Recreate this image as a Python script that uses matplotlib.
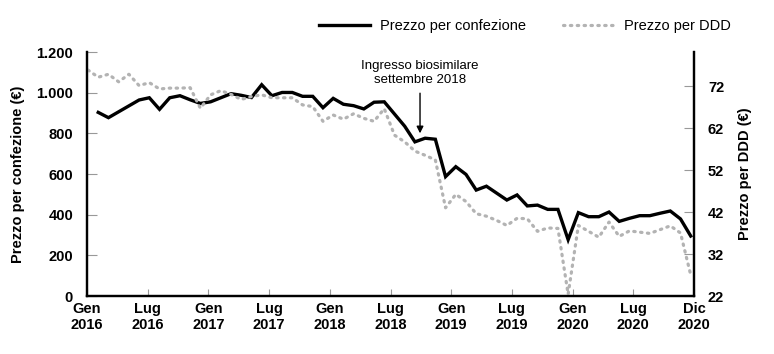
import numpy as np
import matplotlib
matplotlib.use("Agg")
import matplotlib.pyplot as plt

plt.rcParams['font.family'] = ['Liberation Sans', 'DejaVu Sans']

# Prezzo per confezione (EUR), Feb 2016 - Dic 2020
prezzo_confezione = [903, 877, 906, 935, 964, 975, 918, 975, 985, 965,
                     947, 955, 975, 995, 987, 976, 1039, 985, 1001, 1001,
                     982, 982, 926, 972, 943, 936, 920, 953, 955, 895,
                     835, 758, 776, 771, 587, 636, 598, 521, 540, 506,
                     472, 497, 443, 447, 426, 426, 277, 410, 390, 390,
                     413, 367, 382, 395, 395, 407, 418, 379, 295]

# Prezzo per DDD (EUR), Gen 2016 - Dic 2020
prezzo_ddd = [75.8, 74.1, 74.8, 73.0, 74.8, 72.1, 72.8, 71.3, 71.5, 71.5,
              71.6, 66.7, 69.9, 70.9, 70.0, 68.8, 69.5, 69.9, 69.2, 69.2,
              69.2, 67.5, 67.1, 63.6, 65.1, 64.1, 65.4, 64.3, 63.6, 66.6,
              60.3, 58.7, 56.5, 55.5, 54.4, 43.0, 46.2, 44.5, 41.6, 41.0,
              40.0, 38.8, 40.5, 40.4, 37.4, 38.2, 38.1, 22.4, 38.8, 37.4,
              36.0, 39.6, 36.2, 37.5, 37.2, 36.9, 37.8, 38.7, 37.0, 27.0]

tick_labels = ["Gen\n2016", "Lug\n2016", "Gen\n2017", "Lug\n2017", "Gen\n2018",
               "Lug\n2018", "Gen\n2019", "Lug\n2019", "Gen\n2020", "Lug\n2020",
               "Dic\n2020"]

left_ticks = [0, 200, 400, 600, 800, 1000, 1200]
right_ticks = [22, 32, 42, 52, 62, 72]

x_ddd = np.arange(len(prezzo_ddd))
x_conf = np.arange(1, len(prezzo_confezione) + 1)

fig = plt.figure(figsize=(7.74, 3.54), dpi=100)
ax = fig.add_axes([87 / 774, 58 / 354, 607 / 774, 244 / 354])
ax2 = ax.twinx()

line1, = ax.plot(x_conf, prezzo_confezione, color='black', lw=2.4,
                 solid_joinstyle='miter', label='Prezzo per confezione')
line2, = ax2.plot(x_ddd, prezzo_ddd, color='#b3b3b3', lw=2.3,
                  linestyle=(0, (0.45, 1.7)), dash_capstyle='round',
                  label='Prezzo per DDD')

xlim = (-0.1, 59.32)
ax.set_xlim(xlim)
ax.set_ylim(0, 1200)
ax2.set_ylim(22, 80.1)

ax.set_xticks(np.linspace(xlim[0], xlim[1], len(tick_labels)))
ax.set_xticklabels(tick_labels, fontweight='bold', fontsize=10.5)
ax.set_yticks(left_ticks)
ax.set_yticklabels([f"{v:,}".replace(",", ".") for v in left_ticks],
                   fontweight='bold', fontsize=10.5)
ax2.set_yticks(right_ticks)
ax2.set_yticklabels([str(v) for v in right_ticks], fontweight='bold', fontsize=10.5)

ax.tick_params(axis='x', direction='in', length=5, color='#999999', pad=4)
ax.tick_params(axis='y', direction='in', length=7, color='#999999', pad=10)
ax2.tick_params(axis='y', direction='in', length=7, color='#999999', pad=10)

for a in (ax, ax2):
    a.spines['top'].set_visible(False)
    for s in ('left', 'right', 'bottom'):
        a.spines[s].set_linewidth(1.6)
        a.spines[s].set_color('black')

ax.set_ylabel("Prezzo per confezione (€)", fontweight='bold', fontsize=10.5, labelpad=8)
ax2.set_ylabel("Prezzo per DDD (€)", fontweight='bold', fontsize=10.5, labelpad=10)

ax.annotate("Ingresso biosimilare\nsettembre 2018", xy=(32.5, 800), xytext=(32.5, 1095),
            ha='center', va='center', fontsize=9.5,
            arrowprops=dict(arrowstyle='-|>', color='black', lw=1, shrinkA=3, shrinkB=0,
                            mutation_scale=10))

fig.legend(handles=[line1, line2], loc='center', bbox_to_anchor=(525 / 774, 1 - 26 / 354),
           ncol=2, frameon=False, fontsize=10.5, handlelength=3.5, handletextpad=0.7,
           columnspacing=2.5)

fig.savefig("out.png", dpi=100)
